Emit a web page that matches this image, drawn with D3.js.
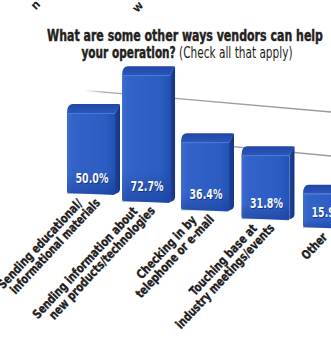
<!DOCTYPE html>
<html><head><meta charset="utf-8">
<script src="https://cdn.jsdelivr.net/npm/d3@7"></script>
<style>html,body{margin:0;padding:0;background:#fff;} svg{display:block}</style>
</head><body>
<script>
const categories = [
  ["Sending educational/", "informational materials"],
  ["Sending information about", "new products/technologies"],
  ["Checking in by", "telephone or e-mail"],
  ["Touching base at", "industry meetings/events"],
  ["Other"]
];
const values = [50.0, 72.7, 36.4, 31.8, 15.9];
const valueLabels = ["50.0%", "72.7%", "36.4%", "31.8%", "15.9%"];
const gridValues = [25, 50];
const titleLine1 = "What are some other ways vendors can help";
const titleLine2a = "your operation?";
const titleLine2b = " (Check all that apply)";
const fragments = ["n", "w"];

const W = 331, H = 340;
const FONT = "'DejaVu Sans Condensed', 'Liberation Sans Narrow', 'Liberation Sans', sans-serif";
const svg = d3.select("body").append("svg").attr("width", W).attr("height", H);
const defs = svg.append("defs");

function grad(id, stops, vertical) {
  const g = defs.append("linearGradient").attr("id", id)
    .attr("x1", 0).attr("y1", 0).attr("x2", vertical ? 0 : 1).attr("y2", vertical ? 1 : 0);
  stops.forEach(s => g.append("stop").attr("offset", s[0]).attr("stop-color", s[1]).attr("stop-opacity", s[2] == null ? 1 : s[2]));
}
grad("front", [["0%", "#3d6dd0"], ["12%", "#3363c9"], ["80%", "#2c5cc2"], ["100%", "#2352b5"]]);
grad("shade", [["0%", "#0a2a7a", 0], ["75%", "#0a2a7a", 0], ["100%", "#0a2a7a", 0.35]], true);
grad("cap", [["0%", "#1f47a6"], ["100%", "#2a57bb"]], true);
grad("side", [["0%", "#1d4299"], ["100%", "#143581"]]);
grad("grid", [["0%", "#aaa", 0], ["8%", "#a9a9a9", 1], ["100%", "#9a9a9a", 1]]);

// perspective scales
const x = d3.scalePow().exponent(1.05).domain([0, categories.length - 1]).range([91, 327]);
const baseY = d3.scaleLinear().domain([91, 327]).range([194, 228]);
const kY = d3.scaleLinear().domain([91, 327]).range([1.62, 2.15]);
const wallBase = d3.scaleLinear().domain([90, 331]).range([175, 200]);
const wallK = d3.scaleLinear().domain([90, 331]).range([1.68, 1.76]);

// gridlines on back wall
const gridStart = [195, 84];
gridValues.forEach((v, i) => {
  const x0 = gridStart[i], x1 = W;
  svg.append("line")
    .attr("x1", x0).attr("y1", wallBase(x0) - wallK(x0) * v)
    .attr("x2", x1).attr("y2", wallBase(x1) - wallK(x1) * v)
    .attr("stroke", "url(#grid)").attr("stroke-width", 1.3);
});

// title
const title = svg.append("g").attr("font-family", FONT).attr("fill", "#231f20").attr("text-anchor", "middle");
title.append("text").attr("x", 185).attr("y", 41).attr("font-size", 16.5).attr("font-weight", "bold")
  .attr("stroke", "#231f20").attr("stroke-width", 0.45)
  .attr("textLength", 276).attr("lengthAdjust", "spacingAndGlyphs").text(titleLine1);
const t2 = title.append("text").attr("x", 187).attr("y", 58).attr("font-size", 16.5)
  .attr("textLength", 211).attr("lengthAdjust", "spacingAndGlyphs");
t2.append("tspan").attr("font-weight", "bold").attr("stroke", "#231f20").attr("stroke-width", 0.45).text(titleLine2a);
t2.append("tspan").attr("font-weight", "normal").text(titleLine2b);

// fragments of text above
const fragPos = [[41, 5], [144, 6]];
fragments.forEach((f, i) => {
  svg.append("text").attr("transform", `translate(${fragPos[i][0]},${fragPos[i][1]}) rotate(-47)`)
    .attr("font-family", FONT).attr("font-weight", "bold").attr("font-size", 12)
    .attr("fill", "#222").attr("text-anchor", "end").text(f);
});

// bars
const halfW = 24, sideW = 5, capD = 9;
const bars = svg.append("g");
values.forEach((v, i) => {
  const cx = x(i), yb = baseY(cx), yt = yb - kY(cx) * v;
  const x0 = cx - halfW, x1 = cx + halfW;
  const g = bars.append("g");
  g.append("path").attr("d", `M${x1},${yt} L${x1 + sideW},${yt - capD} L${x1 + sideW},${yb - 5} Q${x1 + sideW},${yb - 1} ${x1},${yb} Z`)
    .attr("fill", "url(#side)");
  g.append("path").attr("d", `M${x0},${yt} Q${x0},${yt - capD} ${x0 + 6},${yt - capD} L${x1 + sideW - 2},${yt - capD} Q${x1 + sideW},${yt - capD} ${x1 + sideW},${yt - capD + 1} L${x1},${yt} Z`)
    .attr("fill", "url(#cap)");
  g.append("path").attr("d", `M${x0},${yt} L${x1},${yt} L${x1},${yb} Q${x1},${yb + 1} ${x1 - 2},${yb + 1} L${x0 + 2},${yb - 1} Q${x0},${yb - 1} ${x0},${yb - 3} Z`)
    .attr("fill", "url(#front)");
  g.append("rect").attr("x", x0).attr("y", yt).attr("width", x1 - x0).attr("height", yb - yt)
    .attr("fill", "url(#shade)");
  g.append("line").attr("x1", x0).attr("x2", x1).attr("y1", yt + 0.5).attr("y2", yt + 0.5)
    .attr("stroke", "#4a78d6").attr("stroke-width", 1);
  const lx = cx + 1, ly = yb - 11;
  [[0.8, "#0d2a6e", 0.7], [0, "#f4f6fb", 1]].forEach(([d, c, op]) => {
    g.append("text").attr("x", lx + d).attr("y", ly + d).attr("text-anchor", "middle")
      .attr("font-family", FONT).attr("font-weight", "bold").attr("font-size", 14)
      .attr("textLength", 33).attr("lengthAdjust", "spacingAndGlyphs")
      .attr("fill", c).attr("opacity", op).text(valueLabels[i]);
  });
});

// category labels (rotated, right aligned); fitted line widths in px
const labelWidths = [[117, 125], [147, 149], [81, 108], [92, 138], [31]];
const ang = -47, lineStep = 12.5;
categories.forEach((lines, i) => {
  const cx = x(i), yb = baseY(cx);
  const g = svg.append("g").attr("transform", `translate(${cx - 2},${yb + 7}) rotate(${ang})`)
    .attr("font-family", FONT).attr("font-weight", "bold").attr("font-size", 12.5)
    .attr("fill", "#1e1c1d").attr("stroke", "#1e1c1d").attr("stroke-width", 0.35);
  const n = lines.length;
  lines.forEach((ln, j) => {
    const o = (j - (n - 1) / 2) * lineStep;
    g.append("text").attr("x", o).attr("y", o + 4).attr("text-anchor", "end")
      .attr("textLength", labelWidths[i][j]).attr("lengthAdjust", "spacingAndGlyphs").text(ln);
  });
});
</script>
</body></html>
